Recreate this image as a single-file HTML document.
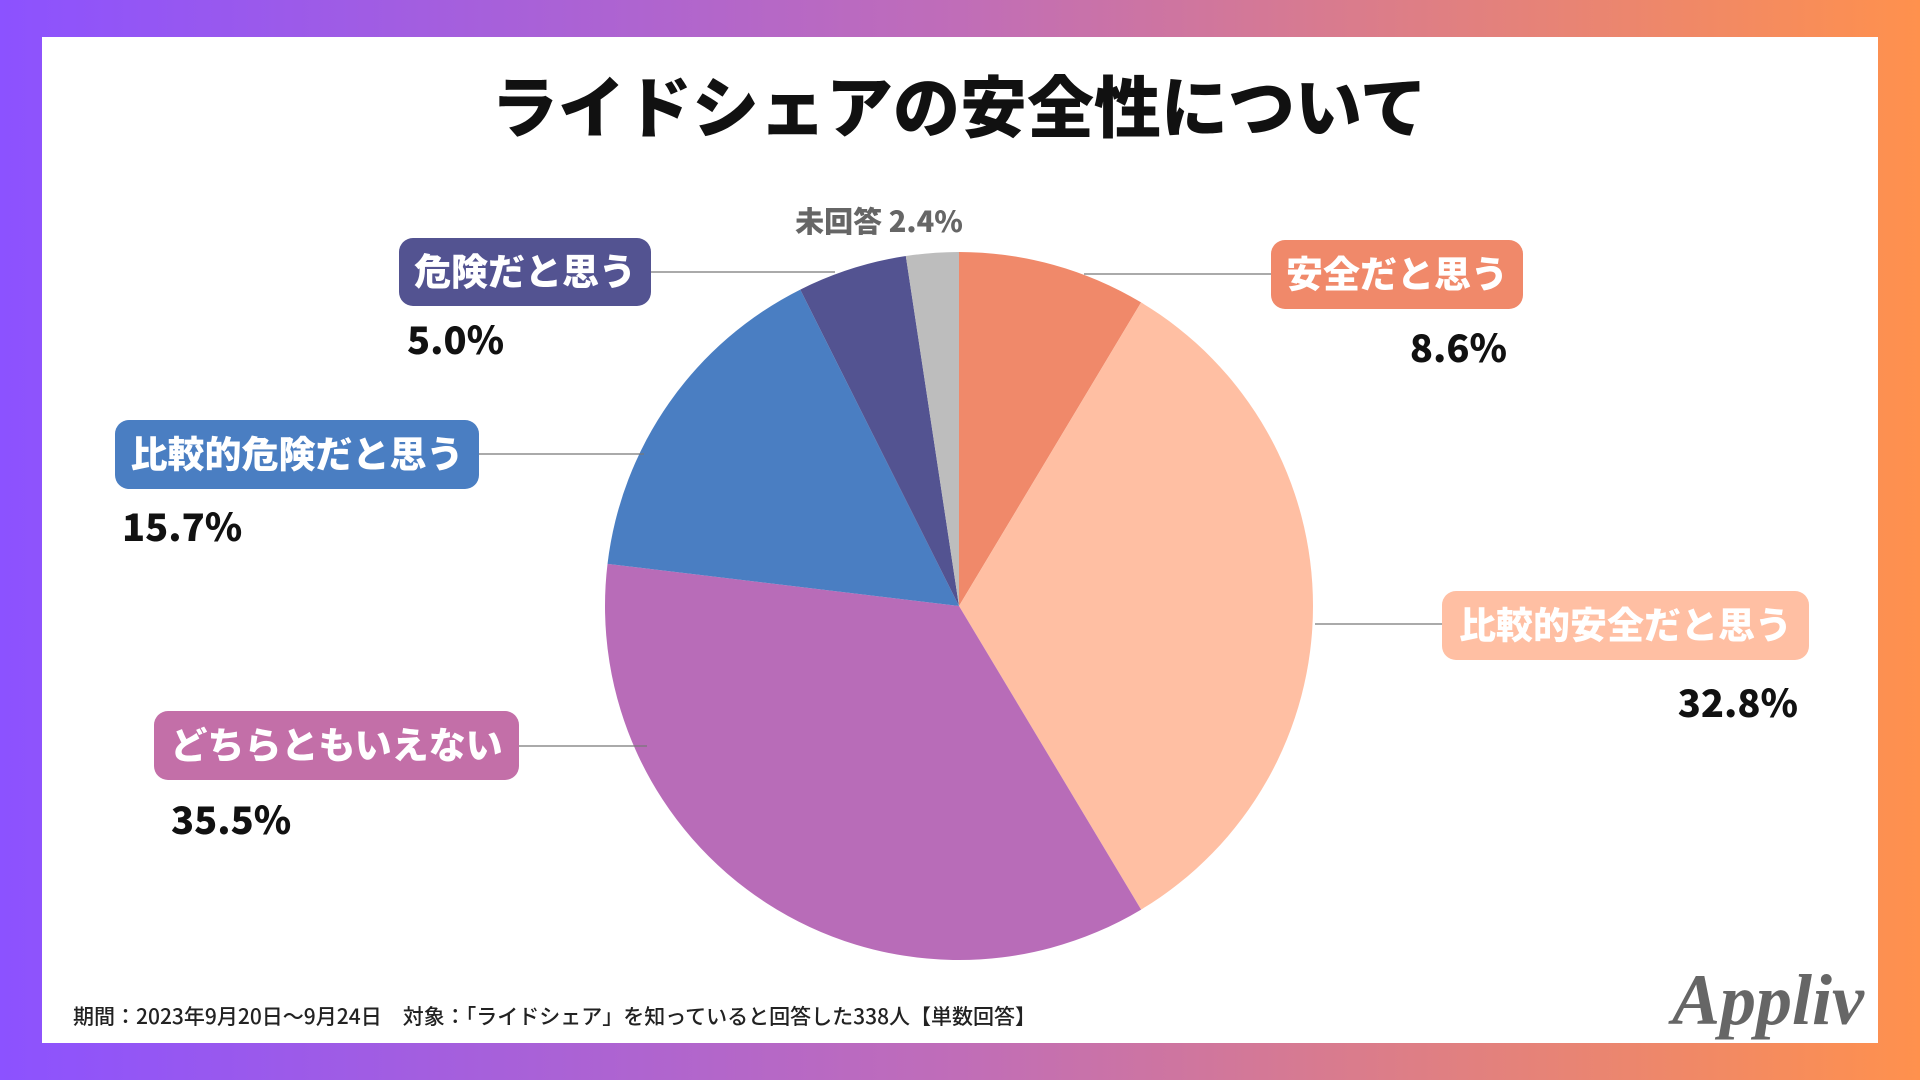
<!DOCTYPE html>
<html><head><meta charset="utf-8">
<style>
html,body{margin:0;padding:0;width:1920px;height:1080px;overflow:hidden}
body{background:linear-gradient(90deg,#8c52ff 0%,#c06db8 50%,#ff914d 100%);font-family:"Liberation Sans","Noto Sans CJK JP",sans-serif}
#panel{position:absolute;left:42px;top:37px;width:1836px;height:1006px;background:#fff}
svg{position:absolute;left:0;top:0}
</style></head>
<body>
<div id="panel"></div>
<svg id="chart" width="1920" height="1080">
<text x="959" y="132" text-anchor="middle" font-size="67" font-weight="900" fill="#111" font-family="Noto Sans CJK JP, sans-serif">ライドシェアの安全性について</text>
<text x="73" y="1024" font-size="21" font-weight="500" fill="#222" font-family="Noto Sans CJK JP, sans-serif">期間：2023年9月20日～9月24日　対象：「ライドシェア」を知っていると回答した338人【単数回答】</text>
<text x="1768" y="1024" text-anchor="middle" font-size="72" font-style="italic" font-weight="bold" fill="#666" font-family="Liberation Serif, serif">Appliv</text>
</svg>
<script>
const categories=["安全だと思う","比較的安全だと思う","どちらともいえない","比較的危険だと思う","危険だと思う","未回答"];
const values=[8.6,32.8,35.5,15.7,5.0,2.4];
const valueLabels=["8.6%","32.8%","35.5%","15.7%","5.0%","2.4%"];
const colors=["#f0896a","#ffbfa3","#b86cb8","#4a7ec2","#535391","#bdbdbd"];
const boxColors=["#f0896a","#ffbfa3","#c36fa8","#4a7ec2","#535391",null];
const layout=[
 {bx:1271,by:240,bw:252,bh:69,px:1507,py:362,pa:"end",lx1:1084,ly:274},
 {bx:1442,by:591,bw:367,bh:69,px:1798,py:717,pa:"end",lx1:1315,ly:624},
 {bx:154,by:711,bw:365,bh:69,px:171,py:834,pa:"start",lx1:647,ly:746},
 {bx:115,by:420,bw:364,bh:69,px:122,py:541,pa:"start",lx1:644,ly:454},
 {bx:399,by:238,bw:252,bh:68,px:407,py:354,pa:"start",lx1:835,ly:272},
 {px:879,py:232}
];
const NS="http://www.w3.org/2000/svg";
const svg=document.getElementById('chart');
const cx=959,cy=606,r=354;
const total=values.reduce((a,b)=>a+b,0);
function ang(v){return v/total*2*Math.PI-Math.PI/2;}
function pt(a){return [cx+r*Math.cos(a),cy+r*Math.sin(a)];}
let acc=0;
const g=document.createElementNS(NS,'g');


svg.appendChild(g);
values.forEach((v,i)=>{
 const a0=ang(acc),a1=ang(acc+v);acc+=v;
 const p0=pt(a0),p1=pt(a1);
 const large=(a1-a0)>Math.PI?1:0;
 const p=document.createElementNS(NS,'path');
 p.setAttribute('d',`M${cx},${cy}L${p0[0]},${p0[1]}A${r},${r} 0 ${large} 1 ${p1[0]},${p1[1]}Z`);
 p.setAttribute('fill',colors[i]);
 
 
 g.appendChild(p);
});
const font='Noto Sans CJK JP, sans-serif';
layout.forEach((L,i)=>{
 if(boxColors[i]){
  const left=L.bx>cx;
  const ln=document.createElementNS(NS,'line');
  ln.setAttribute('x1',L.lx1);ln.setAttribute('y1',L.ly);
  ln.setAttribute('x2',left?L.bx:L.bx+L.bw);ln.setAttribute('y2',L.ly);
  ln.setAttribute('stroke','#777');ln.setAttribute('stroke-width','1.2');
  
  
  svg.appendChild(ln);
  const rc=document.createElementNS(NS,'rect');
  rc.setAttribute('x',L.bx);rc.setAttribute('y',L.by);rc.setAttribute('width',L.bw);rc.setAttribute('height',L.bh);
  rc.setAttribute('rx',14);rc.setAttribute('fill',boxColors[i]);
  
  
  svg.appendChild(rc);
  const t=document.createElementNS(NS,'text');
  t.setAttribute('x',L.bx+L.bw/2);t.setAttribute('y',L.by+L.bh/2+13);
  t.setAttribute('text-anchor','middle');t.setAttribute('font-size','37');t.setAttribute('font-weight','900');
  t.setAttribute('fill','#fff');t.setAttribute('font-family',font);
  t.textContent=categories[i];
  
  
  svg.appendChild(t);
  const pv=document.createElementNS(NS,'text');
  pv.setAttribute('x',L.px);pv.setAttribute('y',L.py);pv.setAttribute('text-anchor',L.pa);
  pv.setAttribute('font-size','38');pv.setAttribute('font-weight','900');pv.setAttribute('fill','#111');
  pv.setAttribute('font-family',font);
  pv.textContent=valueLabels[i];
  
  
  svg.appendChild(pv);
 } else {
  const t=document.createElementNS(NS,'text');
  t.setAttribute('x',L.px);t.setAttribute('y',L.py);t.setAttribute('text-anchor','middle');
  t.setAttribute('font-size','29');t.setAttribute('font-weight','900');t.setAttribute('fill','#666');
  t.setAttribute('font-family',font);
  t.textContent=categories[i]+' '+valueLabels[i];
  
  
  svg.appendChild(t);
 }
});
</script>
</body></html>
